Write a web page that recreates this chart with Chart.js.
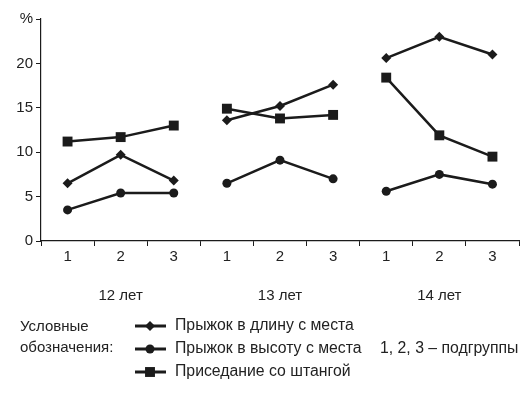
<!DOCTYPE html>
<html>
<head>
<meta charset="utf-8">
<script src="https://cdn.jsdelivr.net/npm/chart.js@4"></script>
<style>
  body { margin: 0; background: #fff; }
</style>
</head>
<body>
<canvas id="myChart" width="532" height="394"></canvas>
<script>
const subgroups = ['1', '2', '3', '1', '2', '3', '1', '2', '3'];
const ageGroups = ['12 лет', '13 лет', '14 лет'];
const longJump = [6.5, 9.7, 6.8, 13.6, 15.2, 17.6, 20.6, 23.0, 21.0];
const highJump = [3.5, 5.4, 5.4, 6.5, 9.1, 7.0, 5.6, 7.5, 6.4];
const squat = [11.2, 11.7, 13.0, 14.9, 13.8, 14.2, 18.4, 11.9, 9.5];
const seriesNames = ['Прыжок в длину с места', 'Прыжок в высоту с места', 'Приседание со штангой'];
const legendTitle = ['Условные', 'обозначения:'];
const legendNote = '1, 2, 3 – подгруппы';

const ink = '#1b1b1b';
const font = "'Liberation Sans', Arial, sans-serif";

// no line between the last point of one age group and the first of the next
const groupBreak = {
  borderColor: c => (c.p0DataIndex % 3 === 2 ? 'rgba(0,0,0,0)' : ink)
};

function series(label, data, style, radius) {
  return {
    label: label,
    data: data,
    borderColor: ink,
    backgroundColor: ink,
    borderWidth: 2.5,
    pointStyle: style,
    pointRadius: radius,
    pointHoverRadius: radius,
    pointBorderWidth: 0,
    tension: 0,
    segment: groupBreak
  };
}

const extras = {
  id: 'extras',
  afterDraw(chart) {
    const c = chart.ctx;
    const x = chart.scales.x;
    c.save();
    c.fillStyle = '#222';
    c.font = '15px ' + font;
    c.textBaseline = 'middle';

    // age groups under the subgroup numbers
    c.textAlign = 'center';
    ageGroups.forEach((g, i) => {
      c.fillText(g, x.getPixelForValue(i * 3 + 1), 296);
    });

    // legend
    c.textAlign = 'left';
    c.fillText(legendTitle[0], 20, 327);
    c.fillText(legendTitle[1], 20, 348);
    c.font = '15.8px ' + font;
    const rows = [326, 349, 372];
    chart.data.datasets.forEach((ds, i) => {
      const y = rows[i];
      c.strokeStyle = ink;
      c.lineWidth = 3;
      c.beginPath();
      c.moveTo(135, y);
      c.lineTo(166, y);
      c.stroke();
      c.fillStyle = ink;
      Chart.helpers.drawPoint(c, {pointStyle: ds.pointStyle, radius: ds.pointRadius, rotation: 0, borderWidth: 0}, 150, y);
      c.fillStyle = '#222';
      c.fillText(ds.label, 175, y);
    });
    c.fillText(legendNote, 380, 349);
    c.restore();
  }
};

new Chart(document.getElementById('myChart'), {
  type: 'line',
  data: {
    labels: subgroups,
    datasets: [
      series(seriesNames[0], longJump, 'rectRot', 5),
      series(seriesNames[1], highJump, 'circle', 4.5),
      series(seriesNames[2], squat, 'rect', 7)
    ]
  },
  options: {
    responsive: false,
    animation: false,
    events: [],
    layout: { padding: { top: 19, right: 13, left: 0, bottom: 0 } },
    plugins: {
      legend: { display: false },
      tooltip: { enabled: false }
    },
    scales: {
      x: {
        offset: true,
        grid: { offset: true, drawOnChartArea: false, drawTicks: true, tickLength: 5, color: ink },
        border: { color: ink, width: 1.2 },
        ticks: { color: '#222', font: { family: font, size: 15 }, padding: 2, maxRotation: 0 },
        afterFit: s => { s.height = 153; }
      },
      y: {
        min: 0,
        max: 25,
        grid: { drawOnChartArea: false, drawTicks: true, tickLength: 5, color: ink },
        border: { color: ink, width: 1.2 },
        ticks: {
          stepSize: 5,
          color: '#222',
          padding: 3,
          font: { family: font, size: 15 },
          callback: v => (v === 25 ? '%' : v)
        },
        afterFit: s => { s.width = 41; }
      }
    }
  },
  plugins: [extras]
});
</script>
</body>
</html>
